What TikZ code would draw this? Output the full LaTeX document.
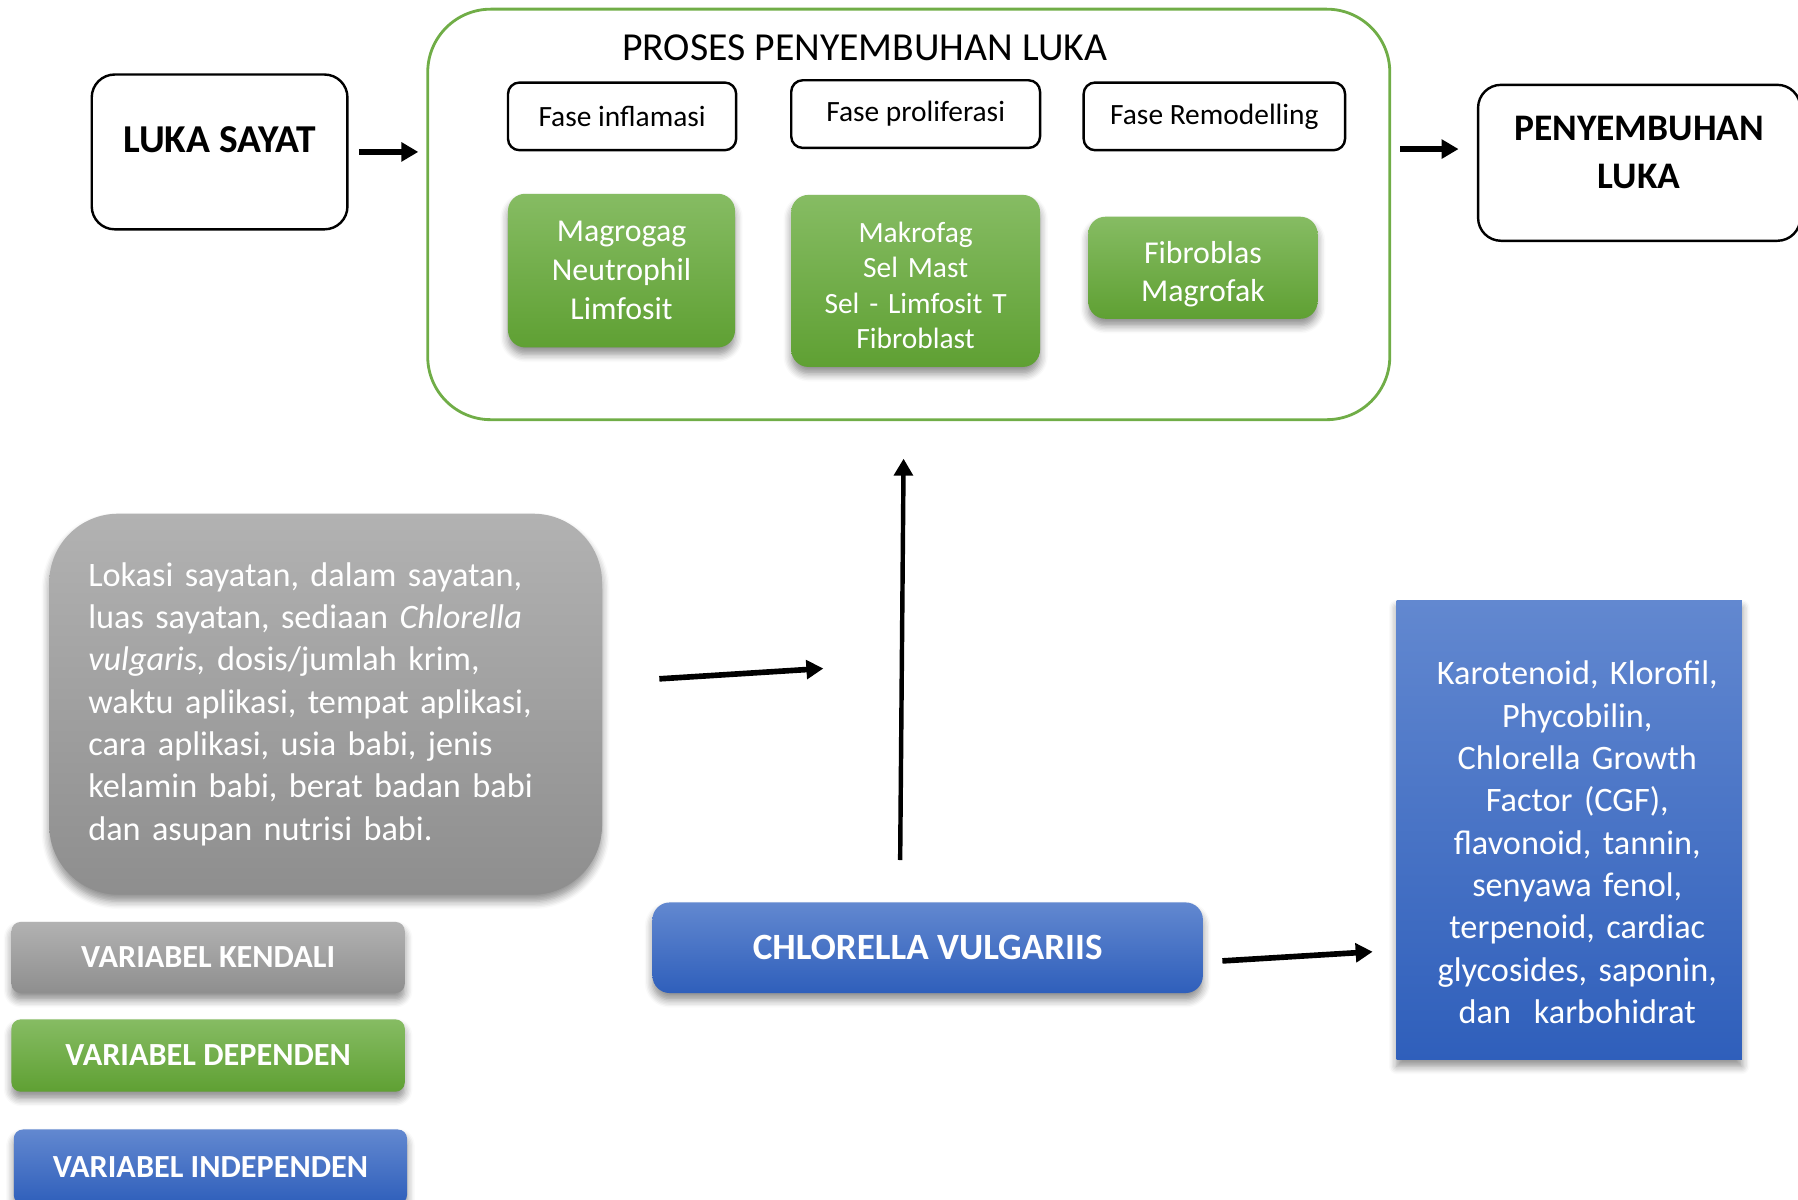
\documentclass[tikz,border=0pt]{standalone}
\usepackage{fontspec}
\setmainfont{Carlito}
\usetikzlibrary{arrows.meta,shadows.blur}
\definecolor{grnline}{HTML}{70AD47}
\definecolor{grntop}{HTML}{86BC63}
\definecolor{grnbot}{HTML}{5FA033}
\definecolor{grytop}{HTML}{B2B2B2}
\definecolor{grybot}{HTML}{8E8E8E}
\definecolor{blutop}{HTML}{6288D0}
\definecolor{blubot}{HTML}{2F5FBB}

\begin{document}
\begin{tikzpicture}[
        outbox/.style={draw=black, line width=0.6pt, rounded corners=0.2cm, inner sep=0pt,
            align=center, font=\bfseries\fontsize{9.3}{12}\selectfont},
        fasebox/.style={draw=black, line width=0.6pt, rounded corners=0.1cm, inner sep=0pt,
            font=\fontsize{7.3}{9}\selectfont},
        softshadow/.style={blur shadow={shadow xshift=0pt, shadow yshift=-0.06cm,
            shadow blur steps=6, shadow opacity=45}},
        selbox/.style={top color=grntop, bottom color=grnbot, rounded corners=0.15cm,
            inner sep=0pt, text=white, align=center, softshadow},
        varbox/.style={rounded corners=0.08cm, inner sep=0pt, text=white,
            minimum width=3.43cm, font=\bfseries\fontsize{8}{10}\selectfont, softshadow},
        gry/.style={top color=grytop, bottom color=grybot},
        grn/.style={top color=grntop, bottom color=grnbot},
        blu/.style={top color=blutop, bottom color=blubot},
        arr/.style={line width=1.4pt, -{Triangle[length=4.2pt, width=4.6pt]}}
    ]
    \useasboundingbox (0,0) rectangle (15.68,-10.46);

    % luka sayat dan proses penyembuhan
    \node[outbox, minimum width=2.23cm, minimum height=1.35cm, text depth=0.21cm,
        font=\bfseries\fontsize{9.8}{12}\selectfont] (luka) at (1.915,-1.325) {LUKA SAYAT};
    \node[draw=grnline, line width=0.7pt, rounded corners=0.55cm, minimum width=8.39cm,
        minimum height=3.58cm] (proses) at (7.925,-1.87) {};
    \node[font=\fontsize{9.85}{12}\selectfont] (judul) at (7.54,-0.42) {PROSES PENYEMBUHAN LUKA};
    \node[outbox, minimum width=2.81cm, minimum height=1.36cm, text depth=0.18cm]
        (hasil) at (14.295,-1.42) {PENYEMBUHAN\\LUKA};

    \node[fasebox, minimum width=1.99cm, minimum height=0.59cm] (inflamasi) at (5.425,-1.015) {Fase inflamasi};
    \node[fasebox, minimum width=2.17cm, minimum height=0.59cm] (proliferasi) at (7.985,-0.995) {Fase proliferasi};
    \node[fasebox, minimum width=2.28cm, minimum height=0.59cm] (remodelling) at (10.59,-1.015) {Fase Remodelling};

    \node[selbox, minimum width=1.98cm, minimum height=1.34cm, font=\fontsize{7.9}{9.7}\selectfont]
        (sel1) at (5.42,-2.36) {Magrogag\\Neutrophil\\Limfosit};
    \node[selbox, minimum width=2.17cm, minimum height=1.50cm, text width=2.1cm, text height=0.26cm,
        font=\fontsize{7.3}{8.8}\selectfont]
        (sel2) at (7.985,-2.45) {Makrofag\\Sel Mast\\Sel - Limfosit T\\Fibroblast};
    \node[selbox, minimum width=2.00cm, minimum height=0.89cm, text width=1.9cm, text height=0.31cm,
        font=\fontsize{7.9}{9.4}\selectfont]
        (sel3) at (10.49,-2.335) {Fibroblas\\Magrofak};

    \draw[arr, shorten <=0.09cm, shorten >=0.07cm] (luka.east) -- (proses.west |- luka.east);
    \draw[arr, shorten <=0.08cm, shorten >=0.16cm]
        ([yshift=0.12cm]proses.east |- hasil.west) -- ([yshift=0.12cm]hasil.west);

    % variabel kendali
    \node[gry, rounded corners=0.6cm, minimum width=4.82cm, minimum height=3.32cm,
        text width=4.14cm, inner xsep=0.34cm, align=left, text=white, softshadow,
        font=\fontsize{8.5}{10.5}\selectfont] (kendali) at (2.84,-6.14)
        {Lokasi sayatan, dalam sayatan,\\luas sayatan, sediaan \textit{Chlorella}\\
         \textit{vulgaris,} dosis/jumlah krim,\\waktu aplikasi, tempat aplikasi,\\
         cara aplikasi, usia babi, jenis\\kelamin babi, berat badan babi\\
         dan asupan nutrisi babi.};
    \coordinate (k1) at (5.75,-5.92);
    \coordinate (k2) at (7.18,-5.83);
    \draw[arr] (k1) -- (k2);

    % variabel independen
    \node[blu, rounded corners=0.15cm, minimum width=4.80cm, minimum height=0.79cm, text=white,
        font=\bfseries\fontsize{9.2}{11}\selectfont, softshadow] (chlorella) at (8.09,-8.265)
        {CHLORELLA VULGARIIS};
    \node[blu, minimum width=3.01cm, minimum height=4.00cm, text width=2.9cm, inner sep=0pt,
        align=center, text=white, text height=0.42cm, softshadow,
        font=\fontsize{8.5}{10.5}\selectfont] (kandungan) at (13.685,-7.24)
        {\hspace*{0.14cm}Karotenoid, Klorofil,\\\hspace*{0.14cm}Phycobilin,\\\hspace*{0.14cm}Chlorella Growth\\
         \hspace*{0.14cm}Factor (CGF),\\\hspace*{0.14cm}flavonoid, tannin,\\\hspace*{0.14cm}senyawa fenol,\\
         \hspace*{0.14cm}terpenoid, cardiac\\\hspace*{0.14cm}glycosides, saponin,\\\hspace*{0.14cm}dan~~karbohidrat};
    \coordinate (c1) at (7.85,-7.50);
    \coordinate (c2) at (7.88,-4.00);
    \draw[arr, line width=1.1pt] (c1) -- (c2);
    \coordinate (c3) at (10.66,-8.38);
    \coordinate (c4) at (11.97,-8.30);
    \draw[arr] (c3) -- (c4);

    % keterangan
    \node[varbox, gry, minimum height=0.62cm] (vkendali) at (1.815,-8.35) {VARIABEL KENDALI};
    \node[varbox, grn, minimum height=0.63cm] (vdependen) at (1.815,-9.205) {VARIABEL DEPENDEN};
    \node[varbox, blu, minimum height=0.65cm] (vindependen) at (1.835,-10.175) {VARIABEL INDEPENDEN};
\end{tikzpicture}
\end{document}
